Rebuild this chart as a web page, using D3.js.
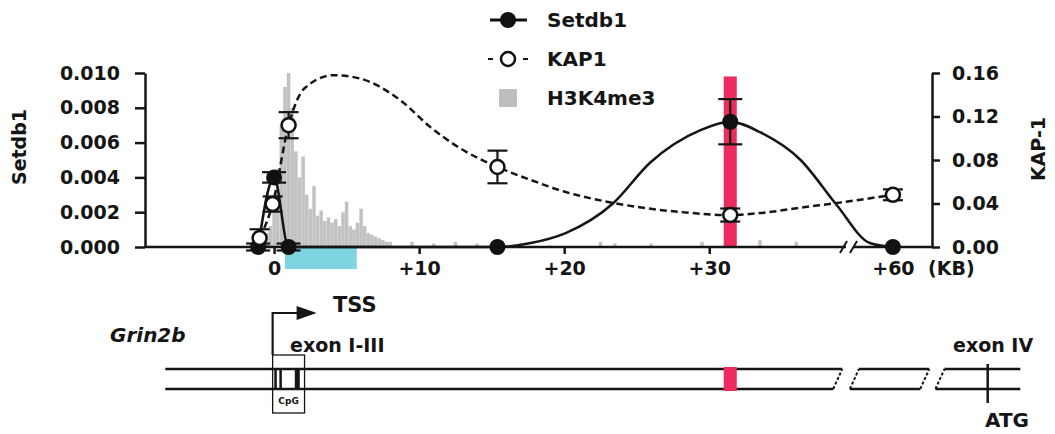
<!DOCTYPE html>
<meta charset="utf-8">
<script src="https://d3js.org/d3.v7.min.js"></script>
<style>
  body { margin: 0; background: #fff; }
  svg text { font-family: "DejaVu Sans", sans-serif; font-weight: bold; fill: #151515; }
</style>
<div id="chart"></div>
<script>
// Setdb1 ChIP (left axis) - points with error bars
const setdb1Kb  = [-1.1, 0, 1.0, 15.4, 31.45, 60];
const setdb1Val = [0, 0.0040, 0, 0, 0.0072, 0];
const setdb1Err = [0.0002, 0.0003, 0.0002, 0, 0.0013, 0];
// smooth fit drawn through/around the Setdb1 points
const setdb1Fit = [[-1.1, 0], [0, 0.0040], [1.0, 0], [15.4, 0], [17.7, 0.00023], [20.1, 0.0008],
  [23.4, 0.00253], [25.9, 0.00483], [29.4, 0.00672], [31.45, 0.0072], [33.5, 0.0066],
  [36.3, 0.0050], [38.8, 0.0024], [58.4, 0.00023], [60, 0]];

// KAP1 ChIP (right axis)
const kap1Kb  = [-1.0, -0.1, 1.0, 15.4, 31.45, 60];
const kap1Val = [0.0083, 0.0395, 0.112, 0.0736, 0.0294, 0.048];
const kap1Err = [0.008, 0.007, 0.012, 0.015, 0.006, 0.005];
const kap1Fit = [[-1.0, 0.0083], [-0.1, 0.0395], [1.0, 0.112], [2.1, 0.146], [4.1, 0.158],
  [5.9, 0.155], [8.7, 0.135], [10.8, 0.110], [12.8, 0.091], [15.4, 0.0736], [17.7, 0.0616],
  [20.1, 0.0506], [23.4, 0.0405], [28.0, 0.0322], [31.45, 0.0294], [33.5, 0.0312],
  [36.5, 0.0365], [39.0, 0.0408], [60, 0.048]];

// H3K4me3 track (arbitrary units, 100 = top of plot)
const h3k4me3 = [[-1.0, 3], [-0.75, 5], [-0.5, 8], [-0.25, 12], [0, 20], [0.25, 45], [0.5, 70],
  [0.75, 92], [1.0, 100], [1.25, 80], [1.5, 55], [1.75, 40], [2.0, 52], [2.25, 30], [2.5, 22],
  [2.75, 35], [3.0, 18], [3.25, 21], [3.5, 15], [3.75, 17], [4.0, 14], [4.25, 16], [4.5, 12],
  [4.75, 20], [5.0, 26], [5.25, 12], [5.5, 10], [5.75, 14], [6.0, 22], [6.25, 12], [6.5, 8],
  [6.75, 7], [7.0, 6], [7.25, 5], [7.5, 4], [7.75, 3], [8.0, 3], [9.5, 3], [11, 2], [12.5, 3],
  [14, 2], [17, 2], [19, 1], [22.5, 3], [23.5, 2], [26, 2], [29.5, 3], [33.5, 4], [36, 3]];

const xTicks = [0, 10, 20, 30, 60];
const setdb1Ticks = [0, 0.002, 0.004, 0.006, 0.008, 0.010];
const kap1Ticks = [0, 0.04, 0.08, 0.12, 0.16];
const cpgRegion = [0.75, 5.7];     // cyan bar under the axis
const redRegion = [31.0, 31.9];    // highlighted region

// gene model (kb on the schematic)
const geneSegs = [[-7.5, 38.55], [39.7, 44.55], [45.6, 51.45]];
const exonBox = [-0.1, 2.1];
const exons = [0.1, 0.45, 1.6];
const atgKb = 49.2;

const W = 1055, H = 434;
const svg = d3.select("#chart").append("svg").attr("width", W).attr("height", H);

// scales
const x = d3.scaleLinear().domain([-8.9, 39.5, 57.38, 62.7]).range([145, 847, 855, 932]);
const gx = d3.scaleLinear().domain([-8.9, 39.5]).range([145, 847]);
const yL = d3.scaleLinear().domain([0, 0.010]).range([247, 73]);
const yR = d3.scaleLinear().domain([0, 0.16]).range([247, 73]);
const yH = d3.scaleLinear().domain([0, 100]).range([247, 73]);

// H3K4me3 bars
svg.append("g").selectAll("rect").data(h3k4me3).join("rect")
  .attr("x", d => x(d[0] - 0.12))
  .attr("width", x(0.24) - x(0))
  .attr("y", d => yH(d[1]))
  .attr("height", d => yH(0) - yH(d[1]))
  .attr("fill", "#b3b3b3").attr("opacity", 0.8);

// cyan region
svg.append("rect")
  .attr("x", x(cpgRegion[0])).attr("width", x(cpgRegion[1]) - x(cpgRegion[0]))
  .attr("y", 247).attr("height", 22)
  .attr("fill", "#7fd4e2");

// red region
svg.append("rect")
  .attr("x", x(redRegion[0])).attr("width", x(redRegion[1]) - x(redRegion[0]))
  .attr("y", yL(0.0098)).attr("height", yL(0) - yL(0.0098))
  .attr("fill", "#ea2d5c");

// axes
const axL = svg.append("g").attr("transform", "translate(145,0)")
  .call(d3.axisLeft(yL).tickValues(setdb1Ticks).tickFormat(d3.format(".3f"))
    .tickSize(10).tickSizeOuter(0).tickPadding(15));
const axR = svg.append("g").attr("transform", "translate(932,0)")
  .call(d3.axisRight(yR).tickValues(kap1Ticks).tickFormat(d3.format(".2f"))
    .tickSize(8).tickSizeOuter(0).tickPadding(12));
const axB = svg.append("g").attr("transform", "translate(0,247)")
  .call(d3.axisBottom(x).tickValues(xTicks).tickFormat(d => d === 0 ? "0" : "+" + d)
    .tickSize(7).tickPadding(8));
axB.select(".domain").remove();
[axL, axR, axB].forEach(a => {
  a.selectAll("path, line").attr("stroke", "#151515").attr("stroke-width", 2.5);
  a.selectAll("text").attr("font-size", 19).attr("font-family", "DejaVu Sans").attr("font-weight", "bold").attr("fill", "#151515");
});
// broken x axis line
svg.append("line").attr("x1", 145).attr("x2", 846).attr("y1", 247).attr("y2", 247)
  .attr("stroke", "#151515").attr("stroke-width", 2.5);
svg.append("line").attr("x1", 854).attr("x2", 932).attr("y1", 247).attr("y2", 247)
  .attr("stroke", "#151515").attr("stroke-width", 2.5);
[843, 853].forEach(bx => svg.append("line")
  .attr("x1", bx - 3).attr("y1", 253).attr("x2", bx + 4).attr("y2", 241)
  .attr("stroke", "#151515").attr("stroke-width", 2));
svg.append("text").attr("x", 928).attr("y", 247 + 15).attr("dy", "0.71em")
  .attr("font-size", 19).text("(KB)");

// axis titles
svg.append("text").attr("transform", "translate(26,147) rotate(-90)")
  .attr("text-anchor", "middle").attr("font-size", 19).text("Setdb1");
svg.append("text").attr("transform", "translate(1045,149) rotate(-90)")
  .attr("text-anchor", "middle").attr("font-size", 19).text("KAP-1");

// fitted curves
const curveS = d3.line().x(d => x(d[0])).y(d => yL(d[1])).curve(d3.curveMonotoneX);
const curveK = d3.line().x(d => x(d[0])).y(d => yR(d[1])).curve(d3.curveMonotoneX);
svg.append("path").attr("d", curveK(kap1Fit)).attr("fill", "none")
  .attr("stroke", "#151515").attr("stroke-width", 2.5).attr("stroke-dasharray", "7,4");
svg.append("path").attr("d", curveS(setdb1Fit)).attr("fill", "none")
  .attr("stroke", "#151515").attr("stroke-width", 2.5);

// error bars + markers
function errBars(kb, val, err, y, cap) {
  const g = svg.append("g").attr("stroke", "#151515").attr("stroke-width", 2.2);
  kb.forEach((k, i) => {
    if (!err[i]) return;
    const cx = x(k), y0 = y(val[i] - err[i]), y1 = y(val[i] + err[i]);
    g.append("line").attr("x1", cx).attr("x2", cx).attr("y1", y0).attr("y2", y1);
    g.append("line").attr("x1", cx - cap).attr("x2", cx + cap).attr("y1", y0).attr("y2", y0);
    g.append("line").attr("x1", cx - cap).attr("x2", cx + cap).attr("y1", y1).attr("y2", y1);
  });
}
errBars(setdb1Kb, setdb1Val, setdb1Err, yL, 12);
errBars(kap1Kb, kap1Val, kap1Err, yR, 10);

svg.append("g").selectAll("circle").data(setdb1Kb).join("circle")
  .attr("cx", d => x(d)).attr("cy", (d, i) => yL(setdb1Val[i]))
  .attr("r", 8).attr("fill", "#111");
svg.append("g").selectAll("circle").data(kap1Kb).join("circle")
  .attr("cx", d => x(d)).attr("cy", (d, i) => yR(kap1Val[i]))
  .attr("r", 7).attr("fill", "#fff").attr("stroke", "#111").attr("stroke-width", 2.5);

// legend
const lg = svg.append("g");
lg.append("line").attr("x1", 490).attr("x2", 527).attr("y1", 20).attr("y2", 20)
  .attr("stroke", "#111").attr("stroke-width", 3);
lg.append("circle").attr("cx", 508).attr("cy", 20).attr("r", 8).attr("fill", "#111");
lg.append("line").attr("x1", 488).attr("x2", 528).attr("y1", 59).attr("y2", 59)
  .attr("stroke", "#111").attr("stroke-width", 2).attr("stroke-dasharray", "5,30");
lg.append("circle").attr("cx", 508).attr("cy", 59).attr("r", 7)
  .attr("fill", "#fff").attr("stroke", "#111").attr("stroke-width", 2.5);
lg.append("rect").attr("x", 499).attr("y", 89).attr("width", 18).attr("height", 18)
  .attr("fill", "#b3b3b3").attr("opacity", 0.85);
["Setdb1", "KAP1", "H3K4me3"].forEach((t, i) =>
  lg.append("text").attr("x", 547).attr("y", [20, 59, 98][i]).attr("dy", "0.36em")
    .attr("font-size", 20).text(t));

// gene model
const gm = svg.append("g").attr("stroke", "#151515");
const yTop = 369, yBot = 389, slant = 9;
geneSegs.forEach((s, i) => {
  const a = gx(s[0]), b = gx(s[1]);
  const aT = i > 0 ? a + slant : a, bT = i < geneSegs.length - 1 ? b + slant : b;
  gm.append("line").attr("x1", aT).attr("x2", bT).attr("y1", yTop).attr("y2", yTop).attr("stroke-width", 2.5);
  gm.append("line").attr("x1", a).attr("x2", b).attr("y1", yBot).attr("y2", yBot).attr("stroke-width", 2.5);
  if (i > 0) gm.append("line").attr("x1", a).attr("y1", yBot).attr("x2", aT).attr("y2", yTop)
    .attr("stroke-width", 2).attr("stroke-dasharray", "3,2");
  if (i < geneSegs.length - 1) gm.append("line").attr("x1", b).attr("y1", yBot).attr("x2", bT).attr("y2", yTop)
    .attr("stroke-width", 2).attr("stroke-dasharray", "3,2");
});
// red region on the gene model
svg.append("rect")
  .attr("x", x(redRegion[0])).attr("width", x(redRegion[1]) - x(redRegion[0]))
  .attr("y", yTop - 2).attr("height", yBot - yTop + 4).attr("fill", "#ea2d5c");
// exon I-III box with CpG
gm.append("rect").attr("x", gx(exonBox[0])).attr("y", 355)
  .attr("width", gx(exonBox[1]) - gx(exonBox[0])).attr("height", 58)
  .attr("fill", "none").attr("stroke-width", 1.3);
exons.forEach((e, i) => gm.append("line").attr("x1", gx(e)).attr("x2", gx(e))
  .attr("y1", yTop).attr("y2", yBot).attr("stroke-width", i === 2 ? 5 : 2.5));
svg.append("text").attr("x", gx((exonBox[0] + exonBox[1]) / 2)).attr("y", 404)
  .attr("text-anchor", "middle").attr("font-size", 9).attr("font-weight", "normal").text("CpG");
// TSS arrow
const tx = gx(exonBox[0]);
gm.append("path").attr("d", `M${tx},355 V313 H${tx + 26}`).attr("fill", "none").attr("stroke-width", 2.2);
svg.append("path").attr("d", `M${tx + 24},306 L${tx + 44},313 L${tx + 24},320 Z`).attr("fill", "#151515");
svg.append("text").attr("x", 333).attr("y", 312).attr("font-size", 21).text("TSS");
svg.append("text").attr("x", 110).attr("y", 342).attr("font-size", 20).attr("font-style", "italic").text("Grin2b");
svg.append("text").attr("x", 290).attr("y", 352).attr("font-size", 19).text("exon I-III");
svg.append("text").attr("x", 953).attr("y", 352).attr("font-size", 19).text("exon IV");
// ATG
gm.append("line").attr("x1", gx(atgKb)).attr("x2", gx(atgKb)).attr("y1", 364).attr("y2", 403).attr("stroke-width", 2.5);
svg.append("text").attr("x", 985).attr("y", 427).attr("font-size", 20).text("ATG");
</script>
